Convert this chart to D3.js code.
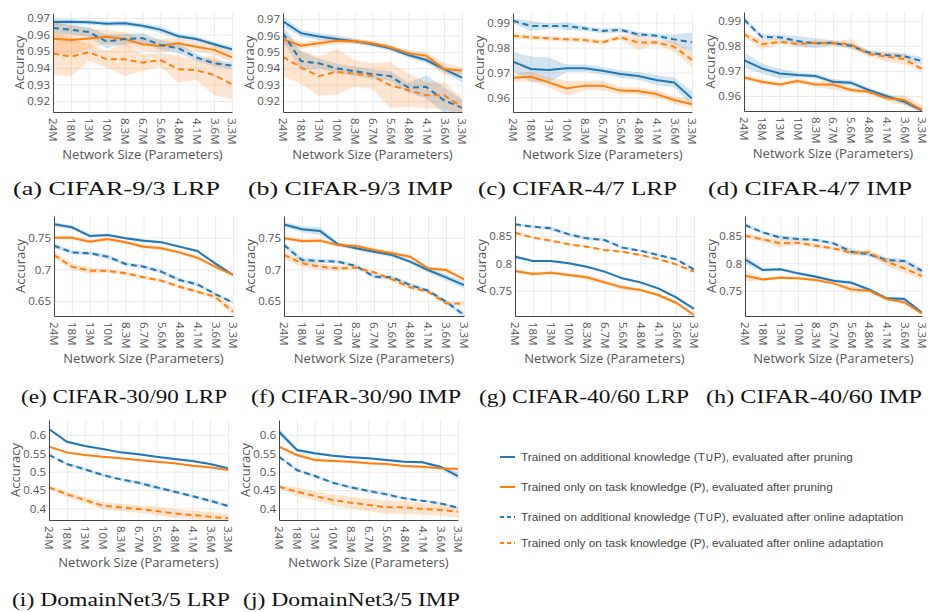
<!DOCTYPE html>
<html>
<head>
<meta charset="utf-8">
<script src="https://cdn.jsdelivr.net/npm/d3@7"></script>
<style>
  body { margin: 0; background: #fff; }
  svg { display: block; }
</style>
</head>
<body>
<div id="root"></div>
<script>
// x categories (network size after pruning)
const sizes = ['24M', '18M', '13M', '10M', '8.3M', '6.7M', '5.6M', '4.8M', '4.1M', '3.6M', '3.3M'];

const seriesNames = [
  'Trained on additional knowledge (T\u222AP), evaluated after pruning',
  'Trained only on task knowledge (P), evaluated after pruning',
  'Trained on additional knowledge (T\u222AP), evaluated after online adaptation',
  'Trained only on task knowledge (P), evaluated after online adaptation'
];
const seriesColors = ['#1f77b4', '#ff7f0e', '#1f77b4', '#ff7f0e'];
const seriesDashed = [false, false, true, true];

// series order: TuP pruning, P pruning, TuP online, P online
// (a) CIFAR-9/3 LRP
const cifar93LrpMean = [
  [0.9676, 0.9678, 0.9674, 0.9666, 0.9668, 0.9653, 0.963, 0.959, 0.9573, 0.9542, 0.9512],
  [0.9575, 0.9568, 0.9577, 0.9587, 0.9573, 0.9542, 0.9532, 0.9548, 0.9526, 0.9508, 0.9463],
  [0.9639, 0.963, 0.9615, 0.9558, 0.9573, 0.9579, 0.9538, 0.9518, 0.9463, 0.9427, 0.9413],
  [0.9487, 0.9467, 0.9494, 0.9451, 0.9451, 0.9431, 0.9447, 0.9392, 0.9386, 0.9356, 0.9301]
];
const cifar93LrpErr = [
  [0.002, 0.0015, 0.0015, 0.0015, 0.0015, 0.0015, 0.002, 0.0015, 0.0015, 0.0015, 0.0015],
  [0.01, 0.009, 0.006, 0.004, 0.004, 0.004, 0.004, 0.003, 0.003, 0.003, 0.003],
  [0.003, 0.003, 0.003, 0.004, 0.003, 0.003, 0.003, 0.003, 0.002, 0.002, 0.002],
  [0.013, 0.012, 0.005, 0.005, 0.01, 0.005, 0.004, 0.008, 0.006, 0.012, 0.009]
];
const cifar93LrpTicks = [0.92, 0.93, 0.94, 0.95, 0.96, 0.97];

// (b) CIFAR-9/3 IMP
const cifar93ImpMean = [
  [0.9686, 0.9614, 0.9593, 0.9579, 0.9565, 0.9546, 0.9522, 0.9481, 0.945, 0.9395, 0.9343],
  [0.9577, 0.9538, 0.9552, 0.9567, 0.9565, 0.9552, 0.9528, 0.9491, 0.9477, 0.9395, 0.9386],
  [0.9614, 0.9444, 0.943, 0.9399, 0.9382, 0.9364, 0.9352, 0.9282, 0.9286, 0.9204, 0.9159],
  [0.947, 0.9405, 0.9352, 0.9378, 0.9368, 0.9352, 0.9296, 0.9266, 0.9235, 0.9235, 0.9163]
];
const cifar93ImpErr = [
  [0.003, 0.002, 0.002, 0.002, 0.0015, 0.0015, 0.0015, 0.0015, 0.002, 0.002, 0.003],
  [0.003, 0.002, 0.002, 0.002, 0.0015, 0.0015, 0.0015, 0.002, 0.002, 0.004, 0.002],
  [0.005, 0.006, 0.003, 0.003, 0.003, 0.003, 0.003, 0.003, 0.007, 0.008, 0.005],
  [0.012, 0.01, 0.012, 0.014, 0.008, 0.008, 0.014, 0.01, 0.008, 0.008, 0.006]
];
const cifar93ImpTicks = [0.92, 0.93, 0.94, 0.95, 0.96, 0.97];

// (c) CIFAR-4/7 LRP
const cifar47LrpMean = [
  [0.9743, 0.9714, 0.971, 0.9717, 0.9717, 0.9707, 0.9694, 0.9686, 0.967, 0.966, 0.9595],
  [0.9679, 0.9683, 0.966, 0.9636, 0.9647, 0.9647, 0.9627, 0.9625, 0.9613, 0.9589, 0.9572],
  [0.9908, 0.9887, 0.9887, 0.9887, 0.9877, 0.9867, 0.9871, 0.9853, 0.9848, 0.9833, 0.9821],
  [0.9848, 0.9841, 0.9837, 0.9833, 0.983, 0.9821, 0.9841, 0.982, 0.9821, 0.9804, 0.975]
];
const cifar47LrpErr = [
  [0.004, 0.005, 0.005, 0.0015, 0.0015, 0.0015, 0.0015, 0.0015, 0.002, 0.002, 0.003],
  [0.0015, 0.002, 0.002, 0.003, 0.002, 0.002, 0.0015, 0.0015, 0.0015, 0.0015, 0.0015],
  [0.001, 0.002, 0.001, 0.0015, 0.001, 0.001, 0.001, 0.001, 0.001, 0.002, 0.004],
  [0.001, 0.001, 0.001, 0.001, 0.001, 0.001, 0.001, 0.003, 0.001, 0.002, 0.003]
];
const cifar47LrpTicks = [0.96, 0.97, 0.98, 0.99];

// (d) CIFAR-4/7 IMP
const cifar47ImpMean = [
  [0.9743, 0.971, 0.969, 0.9684, 0.968, 0.9657, 0.9653, 0.9624, 0.96, 0.9577, 0.9542],
  [0.9674, 0.9657, 0.9646, 0.966, 0.9646, 0.9646, 0.9624, 0.9617, 0.9591, 0.9584, 0.9544],
  [0.9905, 0.9836, 0.9834, 0.9819, 0.981, 0.9812, 0.98, 0.9773, 0.9763, 0.9759, 0.9739],
  [0.9846, 0.9806, 0.9816, 0.9807, 0.9812, 0.981, 0.9806, 0.9767, 0.9757, 0.9747, 0.9708]
];
const cifar47ImpErr = [
  [0.003, 0.002, 0.002, 0.001, 0.001, 0.001, 0.001, 0.001, 0.001, 0.001, 0.001],
  [0.001, 0.001, 0.001, 0.001, 0.001, 0.002, 0.001, 0.001, 0.001, 0.002, 0.002],
  [0.001, 0.001, 0.001, 0.002, 0.002, 0.001, 0.001, 0.001, 0.001, 0.001, 0.0015],
  [0.001, 0.002, 0.001, 0.001, 0.001, 0.001, 0.002, 0.001, 0.002, 0.002, 0.001]
];
const cifar47ImpTicks = [0.96, 0.97, 0.98, 0.99];

// (e) CIFAR-30/90 LRP
const cifar3090LrpMean = [
  [0.771, 0.7663, 0.7526, 0.7542, 0.749, 0.7453, 0.7426, 0.7358, 0.7289, 0.7095, 0.6911],
  [0.75, 0.75, 0.7437, 0.7479, 0.7426, 0.7358, 0.7332, 0.7268, 0.7184, 0.7042, 0.6911],
  [0.7374, 0.7268, 0.7253, 0.72, 0.7084, 0.7042, 0.6963, 0.6832, 0.6763, 0.6611, 0.6474],
  [0.7226, 0.7042, 0.6979, 0.6974, 0.6937, 0.6874, 0.6821, 0.6726, 0.6647, 0.6568, 0.6332]
];
const cifar3090LrpErr = [
  [0.004, 0.003, 0.002, 0.002, 0.002, 0.003, 0.002, 0.002, 0.002, 0.002, 0.002],
  [0.003, 0.003, 0.003, 0.003, 0.003, 0.003, 0.003, 0.003, 0.003, 0.003, 0.003],
  [0.004, 0.003, 0.003, 0.004, 0.003, 0.003, 0.003, 0.003, 0.003, 0.002, 0.002],
  [0.006, 0.005, 0.005, 0.003, 0.003, 0.003, 0.003, 0.003, 0.003, 0.004, 0.006]
];
const cifar3090LrpTicks = [0.65, 0.7, 0.75];

// (f) CIFAR-30/90 IMP
const cifar3090ImpMean = [
  [0.771, 0.7632, 0.7605, 0.7395, 0.7332, 0.7279, 0.7226, 0.7121, 0.6989, 0.6874, 0.6753],
  [0.749, 0.7447, 0.7453, 0.7384, 0.7368, 0.7305, 0.7253, 0.72, 0.7016, 0.6989, 0.6842],
  [0.7384, 0.7147, 0.7132, 0.7121, 0.7053, 0.6884, 0.6874, 0.6753, 0.6663, 0.6489, 0.6279],
  [0.7226, 0.7095, 0.7042, 0.7016, 0.7026, 0.6953, 0.6842, 0.6716, 0.6647, 0.6463, 0.6453]
];
const cifar3090ImpErr = [
  [0.004, 0.005, 0.006, 0.003, 0.003, 0.003, 0.003, 0.003, 0.004, 0.005, 0.006],
  [0.003, 0.003, 0.003, 0.003, 0.003, 0.003, 0.003, 0.003, 0.003, 0.003, 0.003],
  [0.004, 0.004, 0.003, 0.003, 0.003, 0.003, 0.003, 0.003, 0.003, 0.003, 0.005],
  [0.006, 0.006, 0.005, 0.004, 0.003, 0.003, 0.003, 0.003, 0.003, 0.003, 0.003]
];
const cifar3090ImpTicks = [0.65, 0.7, 0.75];

// (g) CIFAR-40/60 LRP
const cifar4060LrpMean = [
  [0.8122, 0.8043, 0.8043, 0.8, 0.7939, 0.7848, 0.7726, 0.7652, 0.7543, 0.7378, 0.7165],
  [0.786, 0.7805, 0.7829, 0.7787, 0.7744, 0.7652, 0.7561, 0.7512, 0.7421, 0.728, 0.7055],
  [0.8713, 0.8671, 0.864, 0.853, 0.8457, 0.8427, 0.8287, 0.8232, 0.8152, 0.8073, 0.789],
  [0.8561, 0.847, 0.8415, 0.8348, 0.8305, 0.8244, 0.8213, 0.8152, 0.8079, 0.7982, 0.7848]
];
const cifar4060LrpErr = [
  [0.004, 0.002, 0.002, 0.002, 0.002, 0.002, 0.002, 0.002, 0.002, 0.002, 0.002],
  [0.004, 0.003, 0.003, 0.003, 0.005, 0.004, 0.004, 0.003, 0.003, 0.003, 0.002],
  [0.003, 0.002, 0.004, 0.003, 0.003, 0.003, 0.003, 0.002, 0.002, 0.002, 0.002],
  [0.003, 0.002, 0.002, 0.002, 0.002, 0.002, 0.002, 0.002, 0.002, 0.002, 0.002]
];
const cifar4060LrpTicks = [0.75, 0.8, 0.85];

// (h) CIFAR-40/60 IMP
const cifar4060ImpMean = [
  [0.8073, 0.7878, 0.789, 0.7817, 0.7756, 0.7683, 0.7646, 0.7524, 0.736, 0.7348, 0.7098],
  [0.7774, 0.7707, 0.7738, 0.7726, 0.7695, 0.7634, 0.7524, 0.75, 0.7348, 0.7287, 0.7085],
  [0.8701, 0.8567, 0.847, 0.8445, 0.8427, 0.8366, 0.8213, 0.8165, 0.8061, 0.8043, 0.786],
  [0.8506, 0.8439, 0.8366, 0.8378, 0.8323, 0.8274, 0.8195, 0.8201, 0.803, 0.7909, 0.7768]
];
const cifar4060ImpErr = [
  [0.008, 0.003, 0.003, 0.003, 0.003, 0.003, 0.003, 0.003, 0.003, 0.004, 0.003],
  [0.01, 0.003, 0.003, 0.003, 0.003, 0.003, 0.006, 0.003, 0.003, 0.003, 0.003],
  [0.004, 0.003, 0.004, 0.003, 0.003, 0.003, 0.006, 0.004, 0.004, 0.004, 0.006],
  [0.005, 0.004, 0.007, 0.004, 0.004, 0.003, 0.004, 0.004, 0.008, 0.008, 0.007]
];
const cifar4060ImpTicks = [0.75, 0.8, 0.85];

// (i) DomainNet3/5 LRP
const domainLrpMean = [
  [0.6164, 0.5818, 0.57, 0.5618, 0.5527, 0.5473, 0.5409, 0.5345, 0.5291, 0.5209, 0.5091],
  [0.5682, 0.5527, 0.5455, 0.5409, 0.5364, 0.5318, 0.5273, 0.5227, 0.5164, 0.5118, 0.5045],
  [0.5455, 0.5209, 0.5064, 0.4909, 0.4791, 0.47, 0.4573, 0.4455, 0.4336, 0.4209, 0.4064],
  [0.4573, 0.4382, 0.4227, 0.4073, 0.4027, 0.3982, 0.3927, 0.3864, 0.3818, 0.3773, 0.3727]
];
const domainLrpErr = [
  [0.002, 0.002, 0.002, 0.002, 0.002, 0.002, 0.002, 0.002, 0.002, 0.002, 0.002],
  [0.002, 0.002, 0.002, 0.002, 0.002, 0.002, 0.002, 0.002, 0.002, 0.002, 0.002],
  [0.002, 0.004, 0.004, 0.004, 0.004, 0.005, 0.005, 0.004, 0.004, 0.004, 0.005],
  [0.004, 0.008, 0.008, 0.01, 0.01, 0.01, 0.012, 0.012, 0.012, 0.012, 0.012]
];
const domainLrpTicks = [0.4, 0.45, 0.5, 0.55, 0.6];

// (j) DomainNet3/5 IMP
const domainImpMean = [
  [0.6091, 0.5591, 0.55, 0.5436, 0.5391, 0.5364, 0.5318, 0.5273, 0.5255, 0.5136, 0.4882],
  [0.5682, 0.5455, 0.5318, 0.5291, 0.5273, 0.5227, 0.5209, 0.5155, 0.5136, 0.5091, 0.5073],
  [0.5409, 0.5045, 0.4882, 0.47, 0.4573, 0.4473, 0.4382, 0.4273, 0.4209, 0.4136, 0.4018],
  [0.4591, 0.4455, 0.4336, 0.4227, 0.4155, 0.4091, 0.4027, 0.4027, 0.3982, 0.3955, 0.3909]
];
const domainImpErr = [
  [0.01, 0.004, 0.004, 0.003, 0.003, 0.003, 0.003, 0.003, 0.003, 0.004, 0.01],
  [0.003, 0.004, 0.004, 0.003, 0.003, 0.003, 0.003, 0.003, 0.003, 0.003, 0.004],
  [0.005, 0.004, 0.004, 0.004, 0.004, 0.004, 0.004, 0.003, 0.003, 0.003, 0.003],
  [0.004, 0.012, 0.012, 0.015, 0.016, 0.017, 0.018, 0.018, 0.016, 0.015, 0.015]
];
const domainImpTicks = [0.4, 0.45, 0.5, 0.55, 0.6];

// layout of each subplot: plot box, y range, caption placement
const panels = [
  { mean: cifar93LrpMean, err: cifar93LrpErr, ticks: cifar93LrpTicks, caption: '(a) CIFAR-9/3 LRP',
    box: [53, 232, 13, 112], domain: [0.9134, 0.973], cap: [13, 207, 195] },
  { mean: cifar93ImpMean, err: cifar93ImpErr, ticks: cifar93ImpTicks, caption: '(b) CIFAR-9/3 IMP',
    box: [283, 462, 13, 112], domain: [0.9133, 0.9737], cap: [248, 205, 195] },
  { mean: cifar47LrpMean, err: cifar47LrpErr, ticks: cifar47LrpTicks, caption: '(c) CIFAR-4/7 LRP',
    box: [513, 692, 13, 112], domain: [0.9541, 0.9939], cap: [478, 199, 195] },
  { mean: cifar47ImpMean, err: cifar47ImpErr, ticks: cifar47ImpTicks, caption: '(d) CIFAR-4/7 IMP',
    box: [744, 922, 12, 111], domain: [0.954, 0.9935], cap: [708, 204, 195] },
  { mean: cifar3090LrpMean, err: cifar3090LrpErr, ticks: cifar3090LrpTicks, caption: '(e) CIFAR-30/90 LRP',
    box: [54, 233, 216, 316], domain: [0.6263, 0.7842], cap: [21, 206, 403] },
  { mean: cifar3090ImpMean, err: cifar3090ImpErr, ticks: cifar3090ImpTicks, caption: '(f) CIFAR-30/90 IMP',
    box: [284, 464, 216, 316], domain: [0.6263, 0.7842], cap: [251, 210, 403] },
  { mean: cifar4060LrpMean, err: cifar4060LrpErr, ticks: cifar4060LrpTicks, caption: '(g) CIFAR-40/60 LRP',
    box: [515, 694, 216, 316], domain: [0.7037, 0.8866], cap: [479, 210, 403] },
  { mean: cifar4060ImpMean, err: cifar4060ImpErr, ticks: cifar4060ImpTicks, caption: '(h) CIFAR-40/60 IMP',
    box: [745, 922, 216, 316], domain: [0.7037, 0.8866], cap: [706, 216, 403] },
  { mean: domainLrpMean, err: domainLrpErr, ticks: domainLrpTicks, caption: '(i) DomainNet3/5 LRP',
    box: [49, 228, 420, 520], domain: [0.3682, 0.641], cap: [12, 218, 606] },
  { mean: domainImpMean, err: domainImpErr, ticks: domainImpTicks, caption: '(j) DomainNet3/5 IMP',
    box: [279, 458, 420, 520], domain: [0.3682, 0.641], cap: [243, 217, 606] }
];

const width = 930;
const height = 612;
const sans = "'Open Sans', 'Noto Sans', sans-serif";

const svg = d3.select('#root')
  .append('svg')
  .attr('width', width)
  .attr('height', height);

const yFormat = d3.format('.2~f');

panels.forEach((p, pi) => {
  const [left, right, top, bottom] = p.box;
  const x = d3.scalePoint().domain(sizes).range([left, right]);
  const y = d3.scaleLinear().domain(p.domain).range([bottom, top]);
  const g = svg.append('g');

  // grid
  g.append('g')
    .attr('transform', `translate(0,${bottom})`)
    .call(d3.axisBottom(x).tickSize(-(bottom - top)).tickFormat(''))
    .call(a => a.select('.domain').remove())
    .call(a => a.selectAll('line').attr('stroke', '#ebebeb'));
  g.append('g')
    .attr('transform', `translate(${left},0)`)
    .call(d3.axisLeft(y).tickValues(p.ticks).tickSize(-(right - left)).tickFormat(''))
    .call(a => a.select('.domain').remove())
    .call(a => a.selectAll('line').attr('stroke', '#ebebeb'));

  const clipId = 'clip' + pi;
  g.append('clipPath').attr('id', clipId)
    .append('rect')
    .attr('x', left).attr('y', top)
    .attr('width', right - left).attr('height', bottom - top);

  const plot = g.append('g').attr('clip-path', `url(#${clipId})`);

  const area = d3.area()
    .x((d, i) => x(sizes[i]))
    .y0(d => y(d[0] - d[1]))
    .y1(d => y(d[0] + d[1]));
  const line = d3.line()
    .x((d, i) => x(sizes[i]))
    .y(d => y(d));

  p.mean.forEach((m, si) => {
    plot.append('path')
      .datum(m.map((v, i) => [v, p.err[si][i]]))
      .attr('d', area)
      .attr('fill', seriesColors[si])
      .attr('fill-opacity', 0.2);
  });
  p.mean.forEach((m, si) => {
    plot.append('path')
      .datum(m)
      .attr('d', line)
      .attr('fill', 'none')
      .attr('stroke', seriesColors[si])
      .attr('stroke-width', 2)
      .attr('stroke-dasharray', seriesDashed[si] ? '6,4' : null);
  });

  // axes
  const yAxis = g.append('g')
    .attr('transform', `translate(${left},0)`)
    .call(d3.axisLeft(y).tickValues(p.ticks).tickSize(0).tickPadding(3).tickFormat(yFormat));
  yAxis.select('.domain').attr('stroke', '#444');
  yAxis.selectAll('text')
    .attr('fill', '#555')
    .style('font-family', sans)
    .style('font-size', '11.5px');

  const xAxis = g.append('g')
    .attr('transform', `translate(0,${bottom})`)
    .call(d3.axisBottom(x).tickSize(0).tickPadding(0));
  xAxis.select('.domain').attr('stroke', '#444');
  xAxis.selectAll('text')
    .attr('fill', '#555')
    .style('font-family', sans)
    .style('font-size', '11.5px')
    .attr('text-anchor', 'start')
    .attr('transform', 'rotate(90)')
    .attr('x', 6)
    .attr('y', 0)
    .attr('dy', '0.35em');

  g.append('text')
    .attr('transform', `translate(${left - 34},${(top + bottom) / 2}) rotate(-90)`)
    .attr('text-anchor', 'middle')
    .attr('dy', '0.35em')
    .attr('fill', '#555')
    .style('font-family', sans)
    .style('font-size', '13px')
    .text('Accuracy');

  g.append('text')
    .attr('x', (left + right) / 2)
    .attr('y', bottom + 47)
    .attr('text-anchor', 'middle')
    .attr('fill', '#555')
    .style('font-family', sans)
    .style('font-size', '13px')
    .text('Network Size (Parameters)');

  g.append('text')
    .attr('x', p.cap[0])
    .attr('y', p.cap[2])
    .attr('textLength', p.cap[1])
    .attr('lengthAdjust', 'spacingAndGlyphs')
    .attr('fill', '#111')
    .style('font-family', "'Liberation Serif', serif")
    .style('font-size', '19px')
    .text(p.caption);
});

// legend
const legend = svg.append('g');
const legendY = [457, 487, 517, 543];
seriesNames.forEach((name, i) => {
  legend.append('line')
    .attr('x1', 500).attr('x2', 515)
    .attr('y1', legendY[i]).attr('y2', legendY[i])
    .attr('stroke', seriesColors[i])
    .attr('stroke-width', 2)
    .attr('stroke-dasharray', seriesDashed[i] ? '4,3' : null);
  legend.append('text')
    .attr('x', 521)
    .attr('y', legendY[i])
    .attr('dy', '0.35em')
    .attr('fill', '#444')
    .style('font-family', "'Liberation Sans', Arial, sans-serif")
    .style('font-size', '11.8px')
    .text(name);
});
</script>
</body>
</html>
